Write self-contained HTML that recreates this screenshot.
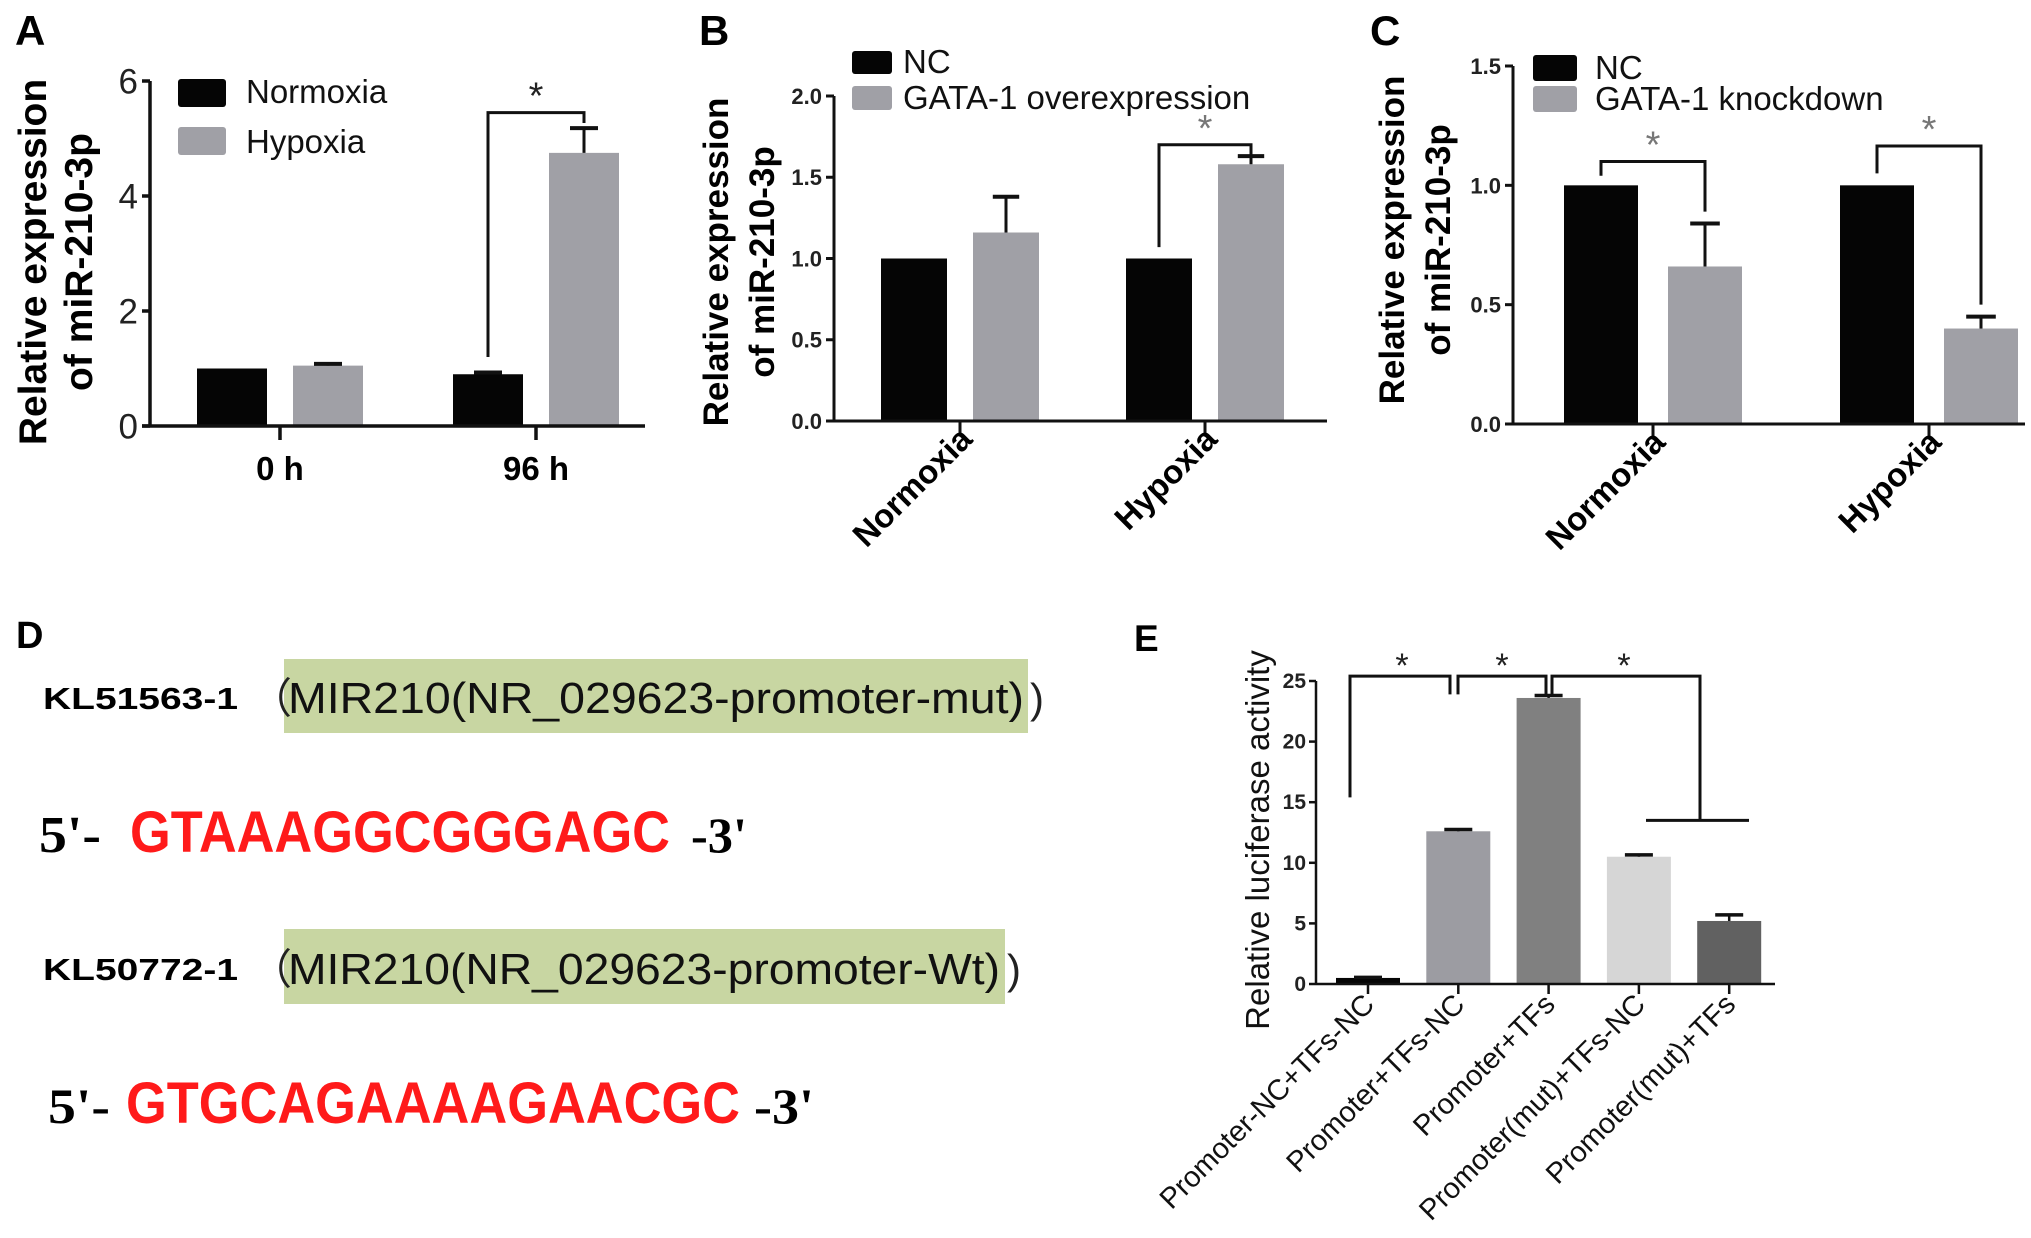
<!DOCTYPE html>
<html><head><meta charset="utf-8"><style>
html,body{margin:0;padding:0;background:#fff;}
svg{display:block;font-family:"Liberation Sans",Arial,sans-serif;}
</style></head><body>
<svg id="fig" width="2031" height="1238" viewBox="0 0 2031 1238" xmlns="http://www.w3.org/2000/svg">
<rect width="2031" height="1238" fill="#fff"/>
<g font-weight="bold" fill="#000">
<text x="15" y="45" font-size="42">A</text>
<text x="699" y="45" font-size="42">B</text>
<text x="1370" y="45" font-size="42">C</text>
<text x="16" y="648" font-size="38">D</text>
<text x="1134" y="651" font-size="37">E</text>
</g>
<g id="panelD">
<rect x="284" y="659" width="744" height="74" fill="#c8d6a2"/>
<text x="43" y="709" font-size="31" font-weight="bold" textLength="195" lengthAdjust="spacingAndGlyphs">KL51563-1</text>
<text x="250" y="713" font-size="42" fill="#222" font-family="Noto Sans CJK SC,sans-serif">（</text>
<text x="288" y="713" font-size="44" fill="#111" textLength="736" lengthAdjust="spacingAndGlyphs">MIR210(NR_029623-promoter-mut)</text>
<text x="1030" y="713" font-size="42" fill="#222">)</text>
<text x="39" y="852" font-size="52" font-weight="bold" font-family="Liberation Serif,serif" textLength="62" lengthAdjust="spacingAndGlyphs">5'-</text>
<text x="130" y="852" font-size="58" font-weight="bold" fill="#ff1a1a" textLength="540" lengthAdjust="spacingAndGlyphs">GTAAAGGCGGGAGC</text>
<text x="691" y="852" font-size="50" font-weight="bold" font-family="Liberation Serif,serif" textLength="56" lengthAdjust="spacingAndGlyphs">-3'</text>
<rect x="284" y="929" width="721" height="75" fill="#c8d6a2"/>
<text x="43" y="980" font-size="31" font-weight="bold" textLength="195" lengthAdjust="spacingAndGlyphs">KL50772-1</text>
<text x="250" y="984" font-size="42" fill="#222" font-family="Noto Sans CJK SC,sans-serif">（</text>
<text x="288" y="984" font-size="44" fill="#111" textLength="712" lengthAdjust="spacingAndGlyphs">MIR210(NR_029623-promoter-Wt)</text>
<text x="1007" y="984" font-size="42" fill="#222">)</text>
<text x="48" y="1123" font-size="50" font-weight="bold" font-family="Liberation Serif,serif" textLength="62" lengthAdjust="spacingAndGlyphs">5'-</text>
<text x="126" y="1123" font-size="58" font-weight="bold" fill="#ff1a1a" textLength="614" lengthAdjust="spacingAndGlyphs">GTGCAGAAAAGAACGC</text>
<text x="754" y="1123" font-size="50" font-weight="bold" font-family="Liberation Serif,serif" textLength="60" lengthAdjust="spacingAndGlyphs">-3'</text>
</g>
</svg>
<script>
// ---- Panel A data ----
const aCategories = ['0 h', '96 h'];
const aNormoxia = [1.0, 0.9];
const aNormoxiaErr = [0.0, 0.03];
const aHypoxia = [1.05, 4.75];
const aHypoxiaErr = [0.03, 0.43];
const aTicks = [0, 2, 4, 6];
const aTickLabels = ['0', '2', '4', '6'];
// ---- Panel B data ----
const bCategories = ['Normoxia', 'Hypoxia'];
const bNC = [1.0, 1.0];
const bNCErr = [0.0, 0.0];
const bOver = [1.16, 1.58];
const bOverErr = [0.22, 0.05];
const bTicks = [0, 0.5, 1.0, 1.5, 2.0];
const bTickLabels = ['0.0', '0.5', '1.0', '1.5', '2.0'];
// ---- Panel C data ----
const cCategories = ['Normoxia', 'Hypoxia'];
const cNC = [1.0, 1.0];
const cNCErr = [0.0, 0.0];
const cKnock = [0.66, 0.40];
const cKnockErr = [0.18, 0.05];
const cTicks = [0, 0.5, 1.0, 1.5];
const cTickLabels = ['0.0', '0.5', '1.0', '1.5'];
// ---- Panel E data ----
const eCategories = ['Promoter-NC+TFs-NC', 'Promoter+TFs-NC', 'Promoter+TFs', 'Promoter(mut)+TFs-NC', 'Promoter(mut)+TFs'];
const eValues = [0.5, 12.6, 23.6, 10.5, 5.2];
const eErr = [0.05, 0.15, 0.2, 0.15, 0.5];
const eTicks = [0, 5, 10, 15, 20, 25];
const eTickLabels = ['0', '5', '10', '15', '20', '25'];

const NS = 'http://www.w3.org/2000/svg';
const svg = document.getElementById('fig');
function mk(tag, attrs, parent) {
  const e = document.createElementNS(NS, tag);
  for (const k in attrs) e.setAttribute(k, attrs[k]);
  (parent || svg).appendChild(e);
  return e;
}
function line(p, x1, y1, x2, y2, w) {
  const l = mk('line', {x1: x1, y1: y1, x2: x2, y2: y2, stroke: '#111', 'stroke-width': w || 3}, p);
  
  
  return l;
}
function poly(p, pts, w) {
  const l = mk('polyline', {points: pts.map(q => q.join(',')).join(' '), fill: 'none', stroke: '#111', 'stroke-width': w || 3}, p);
  
  
  return l;
}
function txt(p, x, y, s, attrs) {
  const t = mk('text', Object.assign({x: x, y: y}, attrs || {}), p);
  t.textContent = s;
  return t;
}

function groupedPanel(cfg) {
  const g = mk('g', {});
  
  
  const yS = v => cfg.y0 - (v - cfg.vmin) / (cfg.vmax - cfg.vmin) * (cfg.y0 - cfg.yTop);
  const xC = i => cfg.cx0 + i * cfg.step;
  cfg.series.forEach((s, si) => {
    s.values.forEach((v, i) => {
      const cx = xC(i) + (si === 0 ? -cfg.off : cfg.off);
      const r = mk('rect', {x: cx - cfg.bw / 2, y: yS(v), width: cfg.bw, height: cfg.y0 - yS(v), fill: s.color}, g);
      
      
      if (s.err[i] > 0) {
        const top = yS(v + s.err[i]);
        line(g, cx, yS(v), cx, top, cfg.ew);
        line(g, cx - cfg.bw * 0.2, top, cx + cfg.bw * 0.2, top, cfg.ew + 1);
      }
    });
  });
  const ya = line(g, cfg.x0, cfg.y0, cfg.x0, cfg.yTop, cfg.aw);
  
  const xa = line(g, cfg.x0 - 8, cfg.y0, cfg.xEnd, cfg.y0, cfg.aw);
  
  cfg.ticks.forEach((v, i) => {
    line(g, cfg.x0 - 8, yS(v), cfg.x0, yS(v), cfg.aw);
    const t = txt(g, cfg.x0 - 12, yS(v) + cfg.tickFs * 0.36, cfg.tickLabels[i], {'font-size': cfg.tickFs, 'text-anchor': 'end', 'font-weight': cfg.tickBold ? 'bold' : 'normal', fill: '#222'});
    
    
  });
  cfg.cats.forEach((c, i) => {
    line(g, xC(i), cfg.y0, xC(i), cfg.y0 + 14, cfg.aw);
    let t;
    if (cfg.rotate) {
      t = txt(g, xC(i) + 14, cfg.y0 + 20, c, {'font-size': cfg.catFs, 'font-weight': 'bold', 'text-anchor': 'end', transform: 'rotate(-45 ' + (xC(i) + 14) + ' ' + (cfg.y0 + 20) + ')'});
    } else {
      t = txt(g, xC(i), cfg.y0 + 54, c, {'font-size': cfg.catFs, 'font-weight': 'bold', 'text-anchor': 'middle'});
    }
    
    
  });
  cfg.title.forEach((s, k) => {
    const x = cfg.titleX[k];
    const t = txt(g, x, cfg.titleY, s, {'font-size': cfg.titleFs, 'font-weight': 'bold', 'text-anchor': 'middle', transform: 'rotate(-90 ' + x + ' ' + cfg.titleY + ')'});
    
    
  });
  cfg.series.forEach((s, si) => {
    const L = cfg.legend[si];
    const r = mk('rect', {x: L[0], y: L[1], width: L[2], height: L[3], fill: s.color, rx: 3}, g);
    
    
    const t = txt(g, L[4], L[5], s.label, {'font-size': cfg.legFs, fill: '#111'});
    
    
  });
  cfg.sig.forEach(b => {
    const xl = xC(b.i) - cfg.off, xr = xC(b.i) + cfg.off;
    poly(g, [[xl, yS(b.l)], [xl, yS(b.top)], [xr, yS(b.top)], [xr, yS(b.r)]], cfg.ew);
    const t = txt(g, (xl + xr) / 2, yS(b.top) - 4, '*', {'font-size': 38, 'text-anchor': 'middle', fill: cfg.starColor});
    
    
  });
}

groupedPanel({name: 'panel-a-chart', x0: 150, xEnd: 645, y0: 426, yTop: 81, vmin: 0, vmax: 6,
  cx0: 280, step: 256, off: 48, bw: 70, aw: 3.5, ew: 3,
  ticks: aTicks, tickLabels: aTickLabels, tickFs: 35, tickBold: false,
  cats: aCategories, catFs: 33, rotate: false,
  title: ['Relative expression', 'of miR-210-3p'], titleX: [46, 92], titleY: 262, titleFs: 39,
  series: [{key: 'normoxia', label: 'Normoxia', values: aNormoxia, err: aNormoxiaErr, color: '#050505'},
           {key: 'hypoxia', label: 'Hypoxia', values: aHypoxia, err: aHypoxiaErr, color: '#a0a0a6'}],
  legend: [[178, 79, 48, 28, 246, 103], [178, 127, 48, 28, 246, 153]], legFs: 33,
  sig: [{i: 1, l: 1.2, top: 5.45, r: 5.27}], starColor: '#222'});

groupedPanel({name: 'panel-b-chart', x0: 834, xEnd: 1327, y0: 421, yTop: 96, vmin: 0, vmax: 2,
  cx0: 960, step: 245, off: 46, bw: 66, aw: 3, ew: 3,
  ticks: bTicks, tickLabels: bTickLabels, tickFs: 22, tickBold: true,
  cats: bCategories, catFs: 33, rotate: true,
  title: ['Relative expression', 'of miR-210-3p'], titleX: [728, 774], titleY: 262, titleFs: 35,
  series: [{key: 'nc', label: 'NC', values: bNC, err: bNCErr, color: '#050505'},
           {key: 'overexpression', label: 'GATA-1 overexpression', values: bOver, err: bOverErr, color: '#a0a0a6'}],
  legend: [[852, 51, 40, 23, 903, 73], [852, 86, 40, 24, 903, 109]], legFs: 33,
  sig: [{i: 1, l: 1.07, top: 1.70, r: 1.64}], starColor: '#777'});

groupedPanel({name: 'panel-c-chart', x0: 1513, xEnd: 2025, y0: 424, yTop: 66, vmin: 0, vmax: 1.5,
  cx0: 1653, step: 276, off: 52, bw: 74, aw: 3, ew: 3,
  ticks: cTicks, tickLabels: cTickLabels, tickFs: 22, tickBold: true,
  cats: cCategories, catFs: 33, rotate: true,
  title: ['Relative expression', 'of miR-210-3p'], titleX: [1404, 1450], titleY: 240, titleFs: 35,
  series: [{key: 'nc', label: 'NC', values: cNC, err: cNCErr, color: '#050505'},
           {key: 'knockdown', label: 'GATA-1 knockdown', values: cKnock, err: cKnockErr, color: '#a0a0a6'}],
  legend: [[1533, 55, 44, 26, 1595, 79], [1533, 86, 44, 26, 1595, 110]], legFs: 33,
  sig: [{i: 0, l: 1.04, top: 1.10, r: 0.89}, {i: 1, l: 1.05, top: 1.165, r: 0.5}], starColor: '#777'});

// ---- Panel E ----
(function () {
  const g = mk('g', {});
  
  
  const x0 = 1316, xEnd = 1775, y0 = 984, yTop = 681, vmax = 25;
  const colors = ['#050505', '#9c9ca2', '#808080', '#d6d6d6', '#616161'];
  const yS = v => y0 - v / vmax * (y0 - yTop);
  const xC = i => 1368 + i * 90.3;
  eValues.forEach((v, i) => {
    const r = mk('rect', {x: xC(i) - 32, y: yS(v), width: 64, height: y0 - yS(v), fill: colors[i]}, g);
    
    
    const top = yS(v + eErr[i]);
    line(g, xC(i), yS(v), xC(i), top, 2.5);
    line(g, xC(i) - 14, top, xC(i) + 14, top, 3.5);
  });
  const ya = line(g, x0, y0, x0, yTop, 2.5);
  
  const xa = line(g, x0, y0, xEnd, y0, 2.5);
  
  eTicks.forEach((v, i) => {
    line(g, x0 - 7, yS(v), x0, yS(v), 2.5);
    const t = txt(g, x0 - 10, yS(v) + 7, eTickLabels[i], {'font-size': 21, 'font-weight': 'bold', 'text-anchor': 'end', fill: '#222'});
    
    
  });
  eCategories.forEach((c, i) => {
    line(g, xC(i), y0, xC(i), y0 + 10, 2.5);
    const px = xC(i) + 8, py = y0 + 22;
    const t = txt(g, px, py, c, {'font-size': 29, 'text-anchor': 'end', fill: '#111', transform: 'rotate(-45 ' + px + ' ' + py + ')'});
    
    
  });
  const tt = txt(g, 1269, 840, 'Relative luciferase activity', {'font-size': 33, 'text-anchor': 'middle', fill: '#111', transform: 'rotate(-90 1269 840)'});
  
  
  const top = yS(25.4);
  poly(g, [[1350, yS(15.4)], [1350, top], [1450, top], [1450, yS(23.9)]], 3);
  poly(g, [[1458, yS(23.9)], [1458, top], [1546, top], [1546, yS(23.9)]], 3);
  poly(g, [[1552, yS(23.9)], [1552, top], [1700, top], [1700, yS(13.5)]], 3);
  line(g, 1646, yS(13.5), 1749, yS(13.5), 3);
  [1402, 1502, 1624].forEach(x => {
    const s = txt(g, x, top + 1, '*', {'font-size': 34, 'text-anchor': 'middle', fill: '#222'});
    
    
  });
})();
</script>
</body></html>
